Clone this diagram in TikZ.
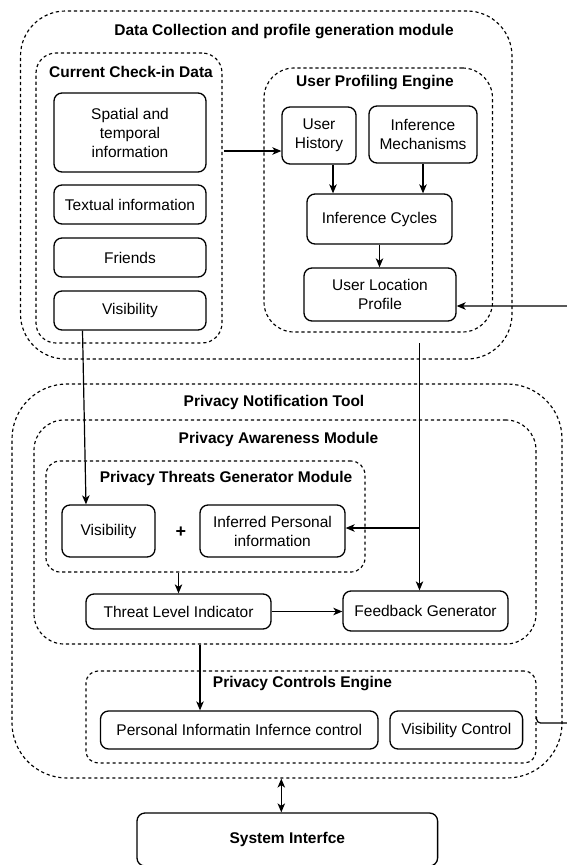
\documentclass[tikz,border=0pt]{standalone}
\usepackage{fontspec}
\setmainfont{Liberation Sans}
\usetikzlibrary{arrows.meta}
\begin{document}
\begin{tikzpicture}[x=1pt,y=-1pt,
  font=\fontsize{15.5}{19}\selectfont,
  box/.style={draw, line width=1.3pt, rounded corners=8pt, inner sep=0pt, align=center},
  group/.style={draw, line width=1.15pt, dash pattern=on 3.2pt off 2.8pt, inner sep=0pt},
  heading/.style={font=\fontsize{15.5}{19}\selectfont\bfseries, inner sep=0pt},
  arr/.style={-{Stealth[length=9pt,width=7.5pt,inset=2.5pt]}, line width=1.2pt},
  dbl/.style={{Stealth[length=9pt,width=7.5pt,inset=2.5pt]}-{Stealth[length=9pt,width=7.5pt,inset=2.5pt]}, line width=1.2pt},
  plain/.style={line width=1.2pt}
]
\useasboundingbox (0,0) rectangle (567,865);

% ---------- Data collection and profile generation ----------
\node[group, rounded corners=45pt, minimum width=491.5pt, minimum height=348pt] (dcm) at (266.25,185) {};
\node[heading] (dcmtitle) at (284,32) {Data Collection and profile generation module};

\node[group, rounded corners=20pt, minimum width=186pt, minimum height=290pt] (checkin) at (129,198) {};
\node[heading] (checkintitle) at (131,72) {Current Check-in Data};
\node[box, minimum width=152pt, minimum height=79pt] (spatial) at (130,132.5) {Spatial and\\temporal\\information};
\node[box, minimum width=152pt, minimum height=39pt] (textual) at (130,204.5) {Textual information};
\node[box, minimum width=152pt, minimum height=39pt] (friends) at (130,257.5) {Friends};
\node[box, minimum width=152pt, minimum height=39pt] (visA) at (130,310.5) {Visibility};

\node[group, rounded corners=30pt, minimum width=228.5pt, minimum height=264pt] (upe) at (378.25,200) {};
\node[heading] (upetitle) at (375,83) {User Profiling Engine};
\node[box, minimum width=74pt, minimum height=57pt] (hist) at (319,135.5) {User\\History};
\node[box, minimum width=108pt, minimum height=57pt] (mech) at (423,134.5) {Inference\\Mechanisms};
\node[box, minimum width=145pt, minimum height=50pt] (cycles) at (379.5,219) {Inference Cycles};
\node[box, minimum width=152pt, minimum height=53pt] (ulp) at (380,294.5) {User Location\\Profile};

% ---------- Privacy notification tool ----------
\node[group, rounded corners=55pt, minimum width=550pt, minimum height=394pt] (pnt) at (287,581) {};
\node[heading] (pnttitle) at (274,402) {Privacy Notification Tool};

\node[group, rounded corners=30pt, minimum width=502pt, minimum height=224pt] (pam) at (285,532) {};
\node[heading] (pamtitle) at (278.5,439) {Privacy Awareness Module};

\node[group, rounded corners=14pt, minimum width=319pt, minimum height=111pt] (ptg) at (205.5,516.5) {};
\node[heading] (ptgtitle) at (226,478) {Privacy Threats Generator Module};
\node[box, minimum width=93pt, minimum height=52pt] (visB) at (108.5,531) {Visibility};
\node[heading, font=\fontsize{18}{20}\selectfont\bfseries] (plus) at (181,532) {+};
\node[box, minimum width=145pt, minimum height=52pt] (inferred) at (272.5,531) {Inferred Personal\\information};

\node[box, minimum width=185pt, minimum height=35pt] (tli) at (178.5,611.5) {Threat Level Indicator};
\node[box, minimum width=165pt, minimum height=40pt] (fg) at (425.5,611) {Feedback Generator};

\node[group, rounded corners=12pt, minimum width=450pt, minimum height=92pt] (pce) at (311,717) {};
\node[heading] (pcetitle) at (302.5,684) {Privacy Controls Engine};
\node[box, minimum width=277.5pt, minimum height=38pt] (piic) at (239.25,730) {Personal Informatin Infernce control};
\node[box, minimum width=132.6pt, minimum height=38pt] (visc) at (456.3,730) {Visibility Control};

\node[box, minimum width=300.6pt, minimum height=53pt, font=\fontsize{15.5}{19}\selectfont\bfseries] (sys) at (287.3,839.5) {System Interfce};

% ---------- Connectors ----------
\coordinate (spout) at (224,151);
\draw[arr] (spout) -- (spout -| hist.west);
\draw[arr] ([xshift=14pt]hist.south) -- ([xshift=14pt]hist.south |- cycles.north);
\draw[arr] (mech.south) -- (mech.south |- cycles.north);
\draw[arr] (cycles.south) -- (cycles.south |- ulp.north);

\draw[arr, rounded corners=4pt] (pce.east) -- ([yshift=-6pt]pce.east) -- ([yshift=-6pt,xshift=70pt]pce.east)
  |- ([yshift=-11.5pt]ulp.east);

\coordinate (profout) at (419.5,343);
\coordinate (branch) at (419.5,528);
\draw[arr] (profout) -- (profout |- fg.north);
\draw[arr] (branch) -- (branch -| inferred.east);

\draw[arr] ([xshift=-47.5pt]visA.south) -- ([xshift=-22.5pt]visB.north);
\draw[arr] (tli.north |- ptg.south) -- (tli.north);
\draw[arr] (tli.east) -- (tli.east -| fg.west);
\draw[arr] ([xshift=-39.25pt]piic.north |- pam.south) -- ([xshift=-39.25pt]piic.north);
\draw[dbl] ([xshift=-6pt]sys.north |- pnt.south) -- ([xshift=-6pt]sys.north);
\end{tikzpicture}
\end{document}
